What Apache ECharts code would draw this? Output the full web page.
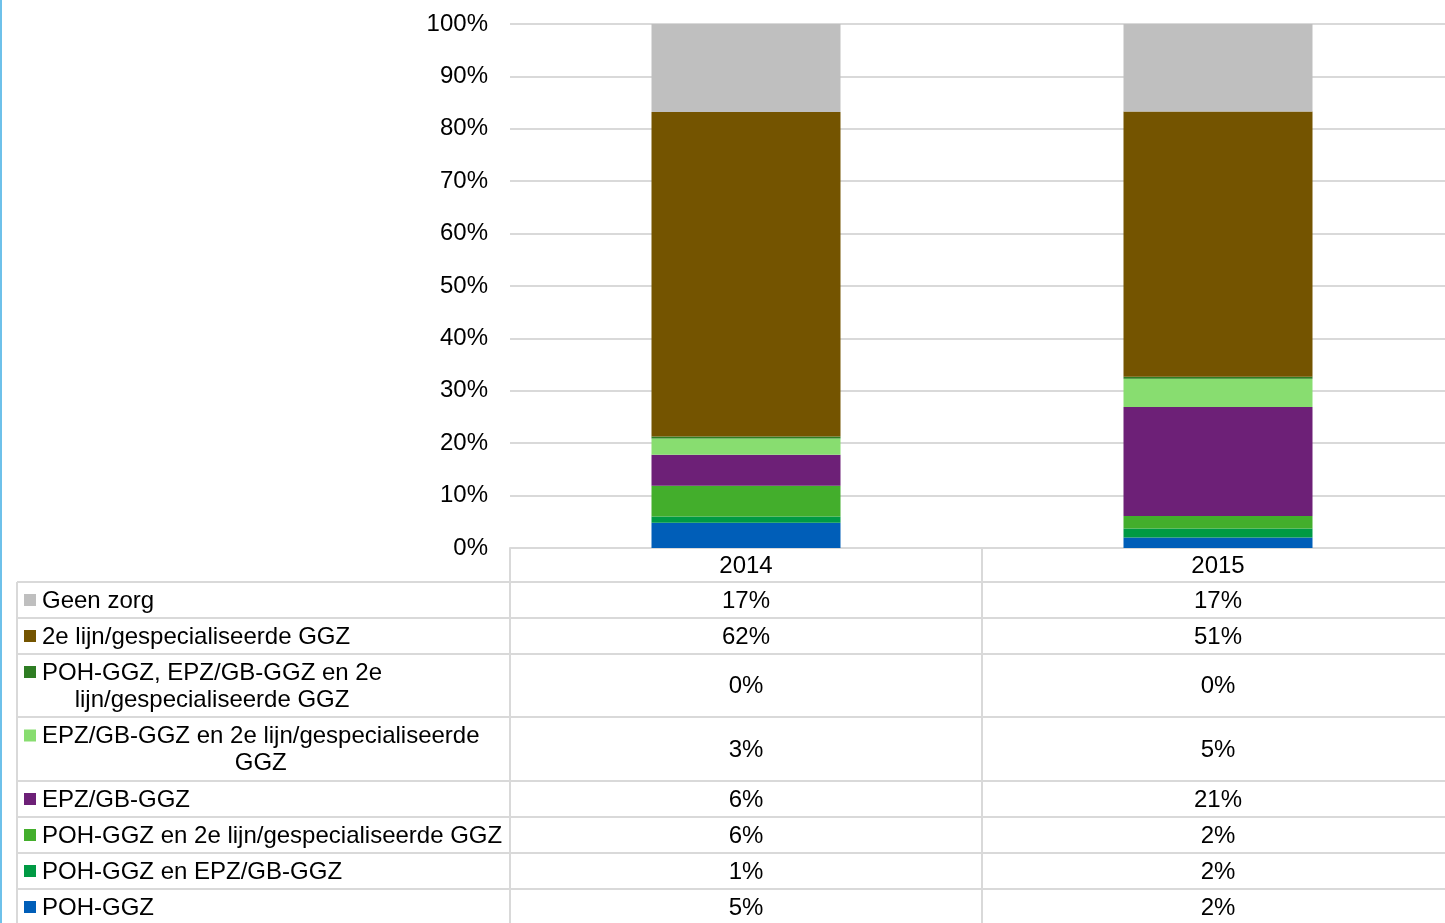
<!DOCTYPE html>
<html>
<head>
<meta charset="utf-8">
<script src="https://cdn.jsdelivr.net/npm/echarts@6/dist/echarts.min.js"></script>
<style>
  html, body { margin: 0; padding: 0; background: #ffffff; }
  #chart { width: 1445px; height: 923px; }
</style>
</head>
<body>
<div id="chart"></div>
<script>
// Categories (x axis)
const years = ['2014', '2015'];

// Share of patients per care route (%), one array per series, stacked bottom to top
const pohGgz      = [4.8, 2.0];   // POH-GGZ
const pohEpz      = [1.2, 1.7];   // POH-GGZ en EPZ/GB-GGZ
const poh2e       = [5.9, 2.4];   // POH-GGZ en 2e lijn/gespecialiseerde GGZ
const epzGb       = [5.9, 20.8];  // EPZ/GB-GGZ
const epz2e       = [3.1, 5.4];   // EPZ/GB-GGZ en 2e lijn/gespecialiseerde GGZ
const pohEpz2e    = [0.4, 0.4];   // POH-GGZ, EPZ/GB-GGZ en 2e lijn/gespecialiseerde GGZ
const tweedeLijn  = [61.9, 50.6]; // 2e lijn/gespecialiseerde GGZ
const geenZorg    = [16.8, 16.7]; // Geen zorg

// Series names (stack order, bottom to top)
const seriesNames = [
  'POH-GGZ',
  'POH-GGZ en EPZ/GB-GGZ',
  'POH-GGZ en 2e lijn/gespecialiseerde GGZ',
  'EPZ/GB-GGZ',
  'EPZ/GB-GGZ en 2e lijn/gespecialiseerde GGZ',
  'POH-GGZ, EPZ/GB-GGZ en 2e lijn/gespecialiseerde GGZ',
  '2e lijn/gespecialiseerde GGZ',
  'Geen zorg'
];
const seriesValues = [pohGgz, pohEpz, poh2e, epzGb, epz2e, pohEpz2e, tweedeLijn, geenZorg];
const seriesColors = ['#005EB8', '#009A44', '#43AE2C', '#6D2077', '#88DD70', '#2E7D23', '#745400', '#BFBFBF'];

// Row captions of the data table as they wrap in the first column (same order as seriesNames)
const tableCaptions = [
  'POH-GGZ',
  'POH-GGZ en EPZ/GB-GGZ',
  'POH-GGZ en 2e lijn/gespecialiseerde GGZ',
  'EPZ/GB-GGZ',
  'EPZ/GB-GGZ en 2e lijn/gespecialiseerde\nGGZ',
  'POH-GGZ, EPZ/GB-GGZ en 2e\nlijn/gespecialiseerde GGZ',
  '2e lijn/gespecialiseerde GGZ',
  'Geen zorg'
];

// ---- layout ----
const FONT = '"Liberation Sans", Arial, sans-serif';
const FS = 24;
const TEXT = '#000000';
const LINE = '#D9D9D9';
const W = 1445, H = 923;
const gridLeft = 510, gridTop = 24, axisY = 548;
const bandW = 472;
const tableLeft = 17;
const captionX = 42;
const wrapLineH = 27;
const textDy = 1;
// row boundaries of the data table, top row is "Geen zorg"
const rowEdges = [582, 618, 654, 717, 781, 817, 853, 889, 925];

const chart = echarts.init(document.getElementById('chart'), null, { renderer: 'canvas' });

chart.setOption({
  animation: false,
  backgroundColor: '#ffffff',
  grid: {
    left: gridLeft, top: gridTop, width: bandW * 2, height: axisY - gridTop,
    containLabel: false, outerBoundsMode: 'none'
  },
  xAxis: {
    type: 'category',
    data: years,
    axisLine: { lineStyle: { color: LINE, width: 2 } },
    axisTick: { show: false },
    axisLabel: { color: TEXT, fontSize: FS, fontFamily: FONT, margin: 6 }
  },
  yAxis: {
    type: 'value',
    min: 0,
    max: 100,
    interval: 10,
    axisLine: { show: false },
    axisTick: { show: false },
    axisLabel: { formatter: '{value}%', color: TEXT, fontSize: FS, fontFamily: FONT, margin: 22, padding: [6, 0, 0, 0] },
    splitLine: { lineStyle: { color: LINE, width: 2 } }
  },
  series: seriesNames.map((name, i) => ({
    name,
    type: 'bar',
    stack: 'total',
    barWidth: 189,
    data: seriesValues[i],
    itemStyle: { color: seriesColors[i] },
    emphasis: { disabled: true }
  }))
});

// ---- data table below the plot ----
const measureCtx = document.createElement('canvas').getContext('2d');
measureCtx.font = FS + 'px "Liberation Sans", Arial, sans-serif';

const colCenters = years.map((_, i) => chart.convertToPixel({ xAxisIndex: 0 }, i));
const colW = colCenters[1] - colCenters[0];
const graphics = [];

// left page border
graphics.push({ type: 'rect', shape: { x: 0, y: 0, width: 2, height: H }, style: { fill: '#6EC1EA' }, silent: true });

// horizontal rules
rowEdges.forEach(y => {
  graphics.push({ type: 'line', shape: { x1: tableLeft, y1: y, x2: W, y2: y }, style: { stroke: LINE, lineWidth: 2 }, silent: true });
});
// vertical rules
graphics.push({ type: 'line', shape: { x1: tableLeft, y1: rowEdges[0], x2: tableLeft, y2: H }, style: { stroke: LINE, lineWidth: 2 }, silent: true });
const colEdges = [colCenters[0] - colW / 2, colCenters[0] + colW / 2];
colEdges.forEach(x => {
  graphics.push({ type: 'line', shape: { x1: x, y1: axisY, x2: x, y2: H }, style: { stroke: LINE, lineWidth: 2 }, silent: true });
});

// rows: top row is the last series in the stack
for (let r = 0; r < seriesNames.length; r++) {
  const s = seriesNames.length - 1 - r;
  const top = rowEdges[r], bottom = rowEdges[r + 1];
  const cy = (top + bottom) / 2;
  const lines = tableCaptions[s].split('\n');
  const maxW = Math.max(...lines.map(t => measureCtx.measureText(t).width));
  const blockCx = captionX + maxW / 2;
  const firstY = cy - (lines.length - 1) * wrapLineH / 2;

  // legend key
  graphics.push({
    type: 'rect',
    shape: { x: 24, y: firstY - 6, width: 12, height: 12 },
    style: { fill: seriesColors[s] },
    silent: true
  });
  // caption lines, centred within the caption block
  lines.forEach((t, j) => {
    graphics.push({
      type: 'text',
      x: lines.length > 1 ? blockCx : captionX,
      y: firstY + j * wrapLineH + textDy,
      style: {
        text: t, fill: TEXT, font: FS + 'px ' + FONT,
        align: lines.length > 1 ? 'center' : 'left', verticalAlign: 'middle'
      },
      silent: true
    });
  });
  // values
  seriesValues[s].forEach((v, c) => {
    graphics.push({
      type: 'text',
      x: colCenters[c],
      y: cy + textDy,
      style: { text: Math.round(v) + '%', fill: TEXT, font: FS + 'px ' + FONT, align: 'center', verticalAlign: 'middle' },
      silent: true
    });
  });
}

chart.setOption({ graphic: { elements: graphics } });
</script>
</body>
</html>
